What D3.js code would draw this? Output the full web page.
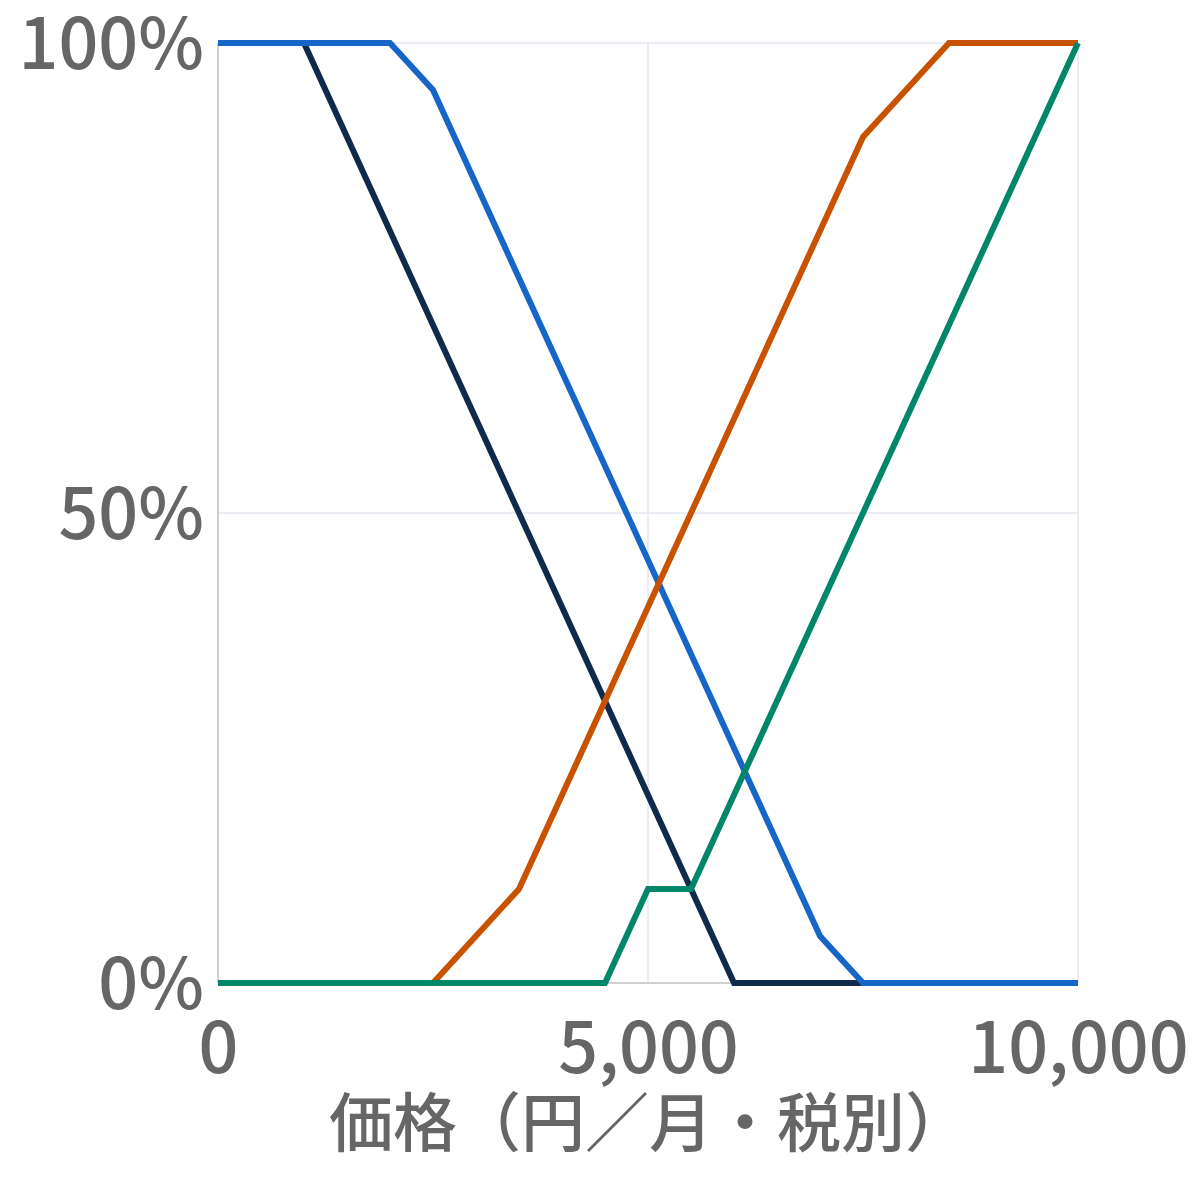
<!DOCTYPE html>
<html lang="ja">
  <head>
    <meta charset="utf-8" />
    <title>価格感度</title>
    <script src="https://d3js.org/d3.v7.min.js"></script>
    <style>
      body {
        margin: 0;
        background: #fff;
        font-family: "Noto Sans CJK JP", sans-serif;
      }
      .tick text {
        fill: #666;
        font-family: "Noto Sans CJK JP";
        font-size: 70px;
        font-weight: 500;
      }
      .axis-title {
        fill: #666;
        font-family: "Noto Sans CJK JP";
        font-size: 64px;
        font-weight: 500;
      }
    </style>
  </head>
  <body>
    <svg id="chart" width="1200" height="1200"></svg>
    <script>
      // 価格（円）
      const prices = [0, 500, 1000, 1500, 2000, 2500, 3000, 3500, 4000, 4500, 5000,
        5500, 6000, 6500, 7000, 7500, 8000, 8500, 9000, 9500, 10000];

      // 各系列の割合（%）
      const navySeries = [100, 100, 100, 90, 80, 70, 60, 50, 40, 30, 20,
        10, 0, 0, 0, 0, 0, 0, 0, 0, 0];
      const blueSeries = [100, 100, 100, 100, 100, 95, 85, 75, 65, 55, 45,
        35, 25, 15, 5, 0, 0, 0, 0, 0, 0];
      const orangeSeries = [0, 0, 0, 0, 0, 0, 5, 10, 20, 30, 40,
        50, 60, 70, 80, 90, 95, 100, 100, 100, 100];
      const greenSeries = [0, 0, 0, 0, 0, 0, 0, 0, 0, 0, 10,
        10, 20, 30, 40, 50, 60, 70, 80, 90, 100];

      const xTicks = [0, 5000, 10000];
      const yTicks = [0, 50, 100];

      const series = [
        { values: navySeries, color: "#0f2a4a" },
        { values: blueSeries, color: "#1666c8" },
        { values: orangeSeries, color: "#c85200" },
        { values: greenSeries, color: "#00876a" },
      ];

      const svg = d3.select("#chart");
      const margin = { left: 218, right: 122, top: 43, bottom: 217 };
      const width = 1200 - margin.left - margin.right,
        height = 1200 - margin.top - margin.bottom;

      const g = svg.append("g").attr("transform", `translate(${margin.left},${margin.top})`);

      const x = d3.scaleLinear().domain([0, 10000]).range([0, width]);
      const y = d3.scaleLinear().domain([0, 100]).range([height, 0]);

      // グリッド
      g.append("g")
        .selectAll("line")
        .data(xTicks)
        .join("line")
        .attr("x1", (d) => x(d))
        .attr("x2", (d) => x(d))
        .attr("y1", 0)
        .attr("y2", height)
        .attr("stroke", "#e3e8f1")
        .attr("stroke-width", 1.5);
      g.append("g")
        .selectAll("line")
        .data(yTicks)
        .join("line")
        .attr("x1", 0)
        .attr("x2", width)
        .attr("y1", (d) => y(d))
        .attr("y2", (d) => y(d))
        .attr("stroke", "#e3e8f1")
        .attr("stroke-width", 1.5);

      // 軸線
      g.append("line").attr("x1", 0).attr("x2", width).attr("y1", height).attr("y2", height)
        .attr("stroke", "#d0d0d0").attr("stroke-width", 2);
      g.append("line").attr("x1", 0).attr("x2", 0).attr("y1", 0).attr("y2", height)
        .attr("stroke", "#d0d0d0").attr("stroke-width", 2);

      // 軸ラベル
      const xAxis = g.append("g")
        .attr("transform", `translate(0,${height})`)
        .call(d3.axisBottom(x).tickValues(xTicks).tickSize(0).tickPadding(40).tickFormat(d3.format(",")));
      xAxis.select(".domain").remove();
      xAxis.selectAll(".tick text").attr("dy", "0.72em");

      const yAxis = g.append("g")
        .call(d3.axisLeft(y).tickValues(yTicks).tickSize(0).tickPadding(14).tickFormat((d) => d + "%"));
      yAxis.select(".domain").remove();
      yAxis.selectAll(".tick text").attr("dy", "0.36em");

      g.append("text")
        .attr("class", "axis-title")
        .attr("x", width / 2 + 1)
        .attr("y", height + 163)
        .attr("text-anchor", "middle")
        .text("価格（円／月・税別）");

      // 折れ線
      const line = d3.line()
        .x((d, i) => x(prices[i]))
        .y((d) => y(d));

      g.append("g")
        .selectAll("path")
        .data(series)
        .join("path")
        .attr("d", (d) => line(d.values))
        .attr("fill", "none")
        .attr("stroke", (d) => d.color)
        .attr("stroke-width", 6)
        .attr("stroke-linejoin", "miter");
    </script>
  </body>
</html>
